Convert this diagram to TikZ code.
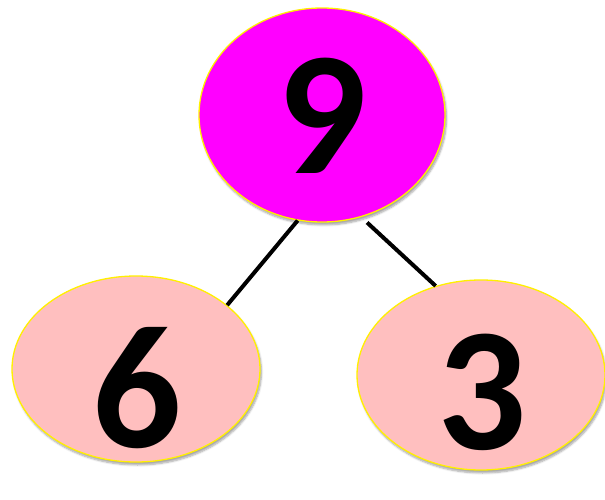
\documentclass[tikz,border=0pt]{standalone}
\usepackage{fontspec}
\setmainfont{Carlito}
\usetikzlibrary{shapes.geometric,shadows.blur}
\definecolor{magentafill}{RGB}{255,0,255}
\definecolor{pinkfill}{RGB}{255,191,191}
\definecolor{rimyellow}{RGB}{255,240,0}
\tikzset{
  bubble/.style={ellipse, draw=rimyellow, line width=1.3pt, inner sep=0pt,
    blur shadow={shadow xshift=1.5pt, shadow yshift=-3pt, shadow blur steps=6, shadow opacity=35}},
  digit/.style={inner sep=0pt, font=\fontsize{176}{176}\selectfont\bfseries, text=black},
  link/.style={line width=4pt, black}
}
\begin{document}
\begin{tikzpicture}[x=1pt,y=1pt]
\useasboundingbox (0,0) rectangle (605,499);
\node[bubble, fill=magentafill, minimum width=246pt, minimum height=214pt] (top) at (322,384) {};
\node[bubble, fill=pinkfill, minimum width=248pt, minimum height=186pt] (left) at (136,130) {};
\node[bubble, fill=pinkfill, minimum width=248pt, minimum height=190pt] (right) at (481,124) {};
\node[digit] (t9) at (322,383) {9};
\node[digit] (t6) at (137,110.5) {6};
\node[digit] (t3) at (482,106.5) {3};
\draw[link] (top.257) -- (left.35);
\draw[link, shorten <=8pt] (top.291) -- (right.117);
\end{tikzpicture}
\end{document}
